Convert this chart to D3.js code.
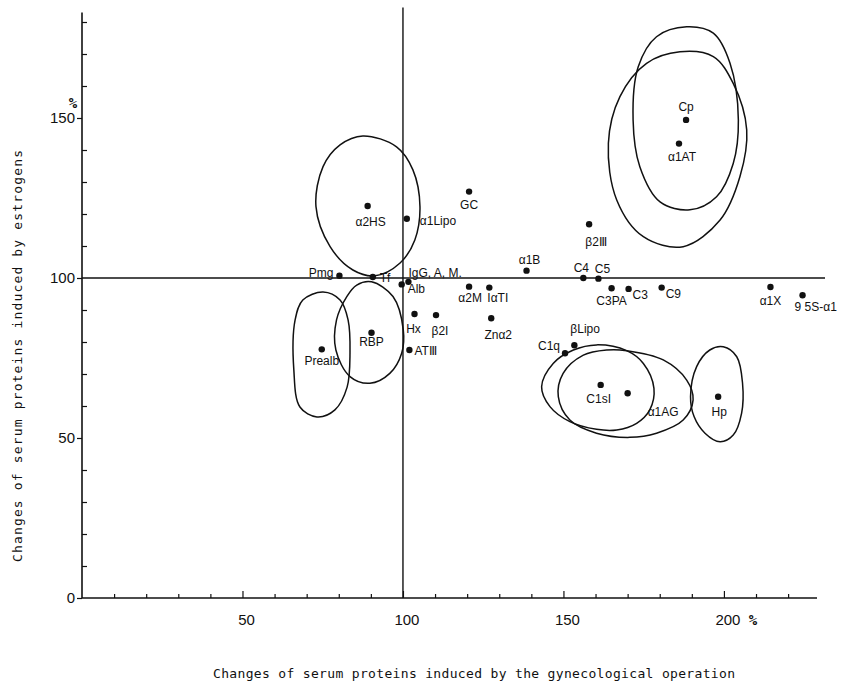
<!DOCTYPE html>
<html>
<head>
<meta charset="utf-8">
<script src="https://cdn.jsdelivr.net/npm/d3@7"></script>
<style>
  body { margin: 0; background: #fff; }
  text { fill: #111; }
</style>
</head>
<body>
<svg id="chart"></svg>
<script>
// proteins, with change after operation (x, %) and change under estrogens (y, %)
var proteins = ["Cp", "α1AT", "GC", "α2HS", "α1Lipo", "Pmg", "Tf", "IgG, A, M.", "Alb", "α2M",
  "IαTI", "α1B", "Hx", "β2I", "Znα2", "RBP", "ATⅢ", "Prealb", "β2Ⅲ", "C4",
  "C5", "C3PA", "C3", "C9", "α1X", "9 5S-α1", "βLipo", "C1q", "C1sI", "α1AG", "Hp"];
var opChange = [188.2, 186, 120.6, 89, 101.2, 80.2, 90.6, 101.7, 99.6, 120.6,
  126.9, 138.5, 103.6, 110.3, 127.5, 90.2, 102, 74.7, 158, 156.2,
  160.9, 165, 170.3, 180.6, 214.5, 224.5, 153.4, 150.5, 161.6, 170, 198.2];
var estChange = [149.4, 142, 127, 122.5, 118.5, 100.7, 100.3, 98.8, 98, 97.3,
  97, 102.3, 88.75, 88.4, 87.4, 82.9, 77.5, 77.7, 116.8, 100,
  99.8, 96.8, 96.6, 97, 97.2, 94.6, 79, 76.5, 66.6, 64, 62.9];

// range outlines (closed curves), [x, y] in %
var loopCp = [[188.4,178.5],[196.7,176.5],[201.9,167.1],[204.5,149.4],[202.9,135.8],[197.7,125.4],
  [189.4,121.3],[180.1,123.8],[173.8,134.8],[171.7,149.4],[173.3,166.0],[179.0,175.4]];
var loopA1AT = [[186.3,170.7],[196.7,169.2],[202.9,160.8],[207.1,146.3],[205.0,131.7],[198.8,118.1],
  [187.3,109.8],[174.9,112.9],[166.6,124.4],[164.0,142.1],[167.6,156.7],[175.9,167.1]];
var loopA2HS = [[87.5,144.4],[98.0,141.0],[103.1,133.8],[105.3,122.3],[103.7,111.9],[99.1,104.7],
  [91.3,100.7],[84.4,102.5],[77.3,109.8],[72.9,122.3],[75.1,134.8],[80.4,141.6]];
var loopPrealb = [[75.1,95.6],[80.4,93.1],[82.9,86.9],[83.5,76.6],[82.6,65.9],[78.8,58.8],
  [73.2,56.6],[67.9,59.7],[66.0,71.3],[66.4,86.9],[68.8,93.1]];
var loopRBP = [[90.2,98.8],[96.9,94.2],[100.1,83.8],[99.6,76.5],[95.9,70.2],[89.7,67.1],
  [83.5,69.2],[79.1,77.5],[79.3,86.9],[82.5,94.2],[85.6,97.8]];
var loopC1sI = [[143.2,66.0],[146.8,73.3],[153.1,77.5],[160.3,79.1],[169.7,77.3],[174.9,73.3],
  [178.2,65.5],[176.9,58.8],[172.8,54.6],[166.6,52.5],[160.3,52.7],[152.0,55.1],[145.8,59.8]];
var loopA1AG = [[148.4,62.9],[149.9,70.2],[156.2,75.9],[163.5,77.5],[169.7,77.3],[181.1,74.4],
  [188.4,68.1],[190.4,61.9],[187.3,55.6],[179.0,51.5],[170.7,50.2],[160.3,51.5],[152.0,55.6]];
var loopHp = [[189.6,62.9],[191.5,72.3],[195.6,77.5],[199.8,78.5],[204.0,75.4],[205.8,67.1],
  [205.5,57.7],[202.9,50.9],[198.8,48.8],[194.1,51.5],[190.7,56.7]];
var loops = [loopCp, loopA1AT, loopA2HS, loopPrealb, loopRBP, loopC1sI, loopA1AG, loopHp];

// axis ticks
var xMajor = [50, 100, 150, 200];
var xMinor = [10, 20, 30, 40, 60, 70, 80, 90, 110, 120, 130, 140, 160, 170, 180, 190, 210, 220];
var yMajor = [0, 50, 100, 150];
var yMinor = [10, 20, 30, 40, 60, 70, 80, 90, 110, 120, 130, 140, 160, 170, 180];

var W = 844, H = 687;
var svg = d3.select("#chart").attr("width", W).attr("height", H);

var x = d3.scaleLinear().domain([0, 229]).range([82, 817]);
var y = d3.scaleLinear().domain([0, 183]).range([598, 12.4]);

// label placement next to each dot: dx, dy (px), anchor
var labelPos = {
  "Cp": [0, -9, "middle"], "α1AT": [3, 17, "middle"], "GC": [0, 17, "middle"],
  "α2HS": [3, 20, "middle"], "α1Lipo": [13, 6, "start"], "Pmg": [-6, 1, "end"],
  "Tf": [7, 5, "start"], "IgG, A, M.": [0, -5, "start"], "Alb": [6, 9, "start"],
  "α2M": [1, 15, "middle"], "IαTI": [-2, 14, "start"], "α1B": [3, -7, "middle"],
  "Hx": [-1, 19, "middle"], "β2I": [4, 20, "middle"], "Znα2": [7, 21, "middle"],
  "RBP": [0, 13, "middle"], "ATⅢ": [5, 5, "start"], "Prealb": [0, 16, "middle"],
  "β2Ⅲ": [7, 22, "middle"], "C4": [-2, -6, "middle"], "C5": [4, -6, "middle"],
  "C3PA": [0, 17, "middle"], "C3": [4, 10, "start"], "C9": [4, 10, "start"],
  "α1X": [0, 18, "middle"], "9 5S-α1": [-8, 16, "start"], "βLipo": [-4, -12, "start"],
  "C1q": [-5, -3, "end"], "C1sI": [-2, 18, "middle"], "α1AG": [20, 23, "start"],
  "Hp": [1, 19, "middle"]
};

var ink = "#111";

//axes
var xAxisMajor = d3.axisBottom(x).tickValues(xMajor).tickSize(-7).tickFormat("");
var xAxisMinor = d3.axisBottom(x).tickValues(xMinor).tickSize(-4).tickFormat("");
svg.append("g").attr("transform", "translate(0," + y(0) + ")").call(xAxisMinor)
  .call(function(g){ g.select(".domain").remove(); });
svg.append("g").attr("transform", "translate(0," + y(0) + ")").call(xAxisMajor)
  .call(function(g){ g.select(".domain").remove(); });

var yAxisMajor = d3.axisLeft(y).tickValues(yMajor).tickSize(5).tickPadding(2);
var yAxisMinor = d3.axisLeft(y).tickValues(yMinor).tickSize(-5).tickFormat("");
svg.append("g").attr("transform", "translate(" + x(0) + ",0)").call(yAxisMinor)
  .call(function(g){ g.select(".domain").remove(); });
svg.append("g").attr("class", "ymaj").attr("transform", "translate(" + x(0) + ",0)").call(yAxisMajor)
  .call(function(g){ g.select(".domain").remove(); });

svg.selectAll(".tick line").attr("stroke", ink).attr("stroke-width", 1.2);
svg.selectAll(".ymaj text").attr("font-family", "Liberation Sans, Arial, sans-serif")
  .attr("font-size", 15).attr("fill", ink);

// x tick labels
svg.append("g").selectAll("text").data(xMajor).join("text")
  .attr("x", function(d){ return x(d) + 4; })
  .attr("y", y(0) + 27)
  .attr("text-anchor", "middle")
  .attr("font-family", "Liberation Sans, Arial, sans-serif")
  .attr("font-size", 15)
  .text(function(d){ return d; });

// axis lines
svg.append("line").attr("x1", x(0)).attr("x2", x(0)).attr("y1", y(0)).attr("y2", y(183))
  .attr("stroke", ink).attr("stroke-width", 1.6);
svg.append("line").attr("x1", x(0)).attr("x2", x(229)).attr("y1", y(0)).attr("y2", y(0))
  .attr("stroke", ink).attr("stroke-width", 1.6);

// reference lines at 100 %
svg.append("line").attr("x1", x(0)).attr("x2", x(231.5)).attr("y1", y(100)).attr("y2", y(100))
  .attr("stroke", ink).attr("stroke-width", 1.4);
svg.append("line").attr("x1", x(100)).attr("x2", x(100)).attr("y1", y(0)).attr("y2", y(184.5))
  .attr("stroke", ink).attr("stroke-width", 1.4);

// percent signs
svg.append("text").attr("x", x(0) - 9).attr("y", y(155) + 6).attr("text-anchor", "middle")
  .attr("font-family", "DejaVu Sans Mono, monospace").attr("font-size", 14).attr("font-weight", "bold")
  .text("%");
svg.append("text").attr("x", x(200) + 29).attr("y", y(0) + 27).attr("text-anchor", "middle")
  .attr("font-family", "DejaVu Sans Mono, monospace").attr("font-size", 14).attr("font-weight", "bold")
  .text("%");

// axis titles
svg.append("text")
  .attr("x", 213).attr("y", 678)
  .attr("font-family", "DejaVu Sans Mono, monospace").attr("font-size", 13)
  .attr("textLength", 522).attr("lengthAdjust", "spacing")
  .text("Changes of serum proteins induced by the gynecological operation");
svg.append("text")
  .attr("transform", "translate(22,562) rotate(-90)")
  .attr("font-family", "DejaVu Sans Mono, monospace").attr("font-size", 13)
  .attr("textLength", 412).attr("lengthAdjust", "spacing")
  .text("Changes of serum proteins induced by estrogens");

// range loops
var outline = d3.line()
  .x(function(d){ return x(d[0]); })
  .y(function(d){ return y(d[1]); })
  .curve(d3.curveCatmullRomClosed.alpha(0.5));
svg.append("g").selectAll("path").data(loops).join("path")
  .attr("d", outline)
  .attr("fill", "none").attr("stroke", ink).attr("stroke-width", 1.5);

// dots and labels
var pts = proteins.map(function(p, i){ return {name: p, x: opChange[i], y: estChange[i]}; });
svg.append("g").selectAll("circle").data(pts).join("circle")
  .attr("cx", function(d){ return x(d.x); })
  .attr("cy", function(d){ return y(d.y); })
  .attr("r", 3.2).attr("fill", ink);
svg.append("g").selectAll("text").data(pts).join("text")
  .attr("x", function(d){ return x(d.x) + labelPos[d.name][0]; })
  .attr("y", function(d){ return y(d.y) + labelPos[d.name][1]; })
  .attr("text-anchor", function(d){ return labelPos[d.name][2]; })
  .attr("font-family", "Liberation Sans, Arial, sans-serif")
  .attr("font-size", 12)
  .text(function(d){ return d.name; });
</script>
</body>
</html>
